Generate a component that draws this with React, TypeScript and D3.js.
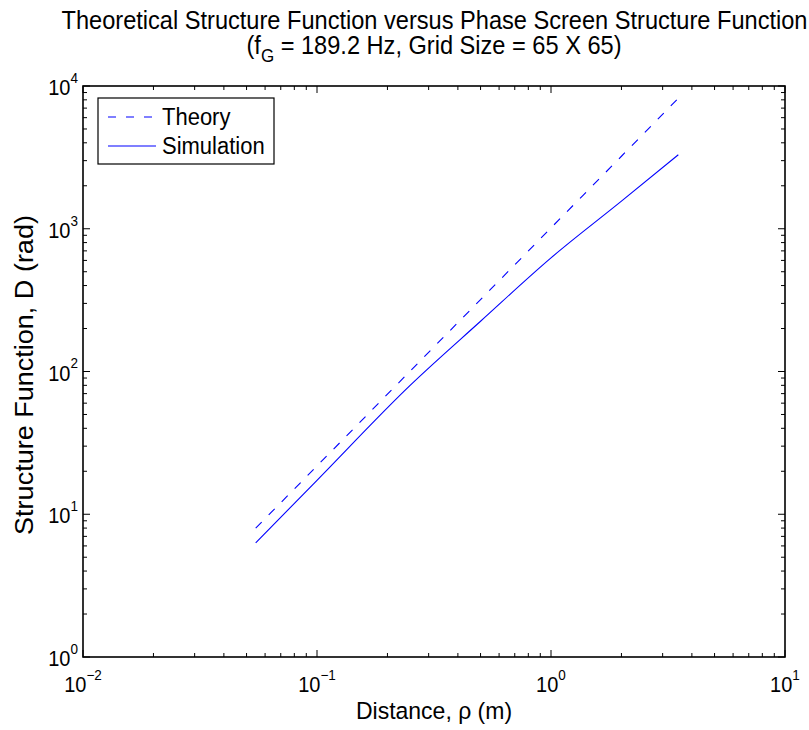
import React from 'react';
import * as d3 from 'd3';

const theoryRho = [0.0547, 0.1, 0.25, 0.5, 1, 2, 3.5];
const theoryD = [8.0, 21.8, 100.6, 319, 1014, 3220, 8200];
const simRho = [0.0547, 0.1, 0.25, 0.5, 1, 2, 3.5];
const simD = [6.3, 17.3, 80, 225, 625, 1560, 3300];
const xTickExps = [-2, -1, 0, 1];
const yTickExps = [0, 1, 2, 3, 4];
const legendLabels = ['Theory', 'Simulation'];

const W = 809, H = 730;
const L = 83, R = 785, T = 86, B = 657;
const FONT = "'Liberation Sans', Arial, Helvetica, sans-serif";
const BLUE = '#0000ff';

const fmtExp = (e: number) => (e < 0 ? '\u2212' + Math.abs(e) : String(e));

export default function App() {
  const x = d3.scaleLog().domain([1e-2, 1e1]).range([L, R]);
  const y = d3.scaleLog().domain([1e0, 1e4]).range([B, T]);
  const line = d3.line<[number, number]>().x(d => x(d[0])).y(d => y(d[1])).curve(d3.curveMonotoneX);
  const theoryPts = theoryRho.map((r, i) => [r, theoryD[i]] as [number, number]);
  const simPts = simRho.map((r, i) => [r, simD[i]] as [number, number]);

  const xMinor: number[] = [];
  for (let e = -2; e < 1; e++) for (let k = 2; k <= 9; k++) xMinor.push(k * Math.pow(10, e));
  const yMinor: number[] = [];
  for (let e = 0; e < 4; e++) for (let k = 2; k <= 9; k++) yMinor.push(k * Math.pow(10, e));

  const MAJ = 7, MIN = 4;
  const tickLines: JSX.Element[] = [];
  xTickExps.forEach(e => {
    const px = x(Math.pow(10, e));
    tickLines.push(<line key={'xb' + e} x1={px} x2={px} y1={B} y2={B - MAJ} />);
    tickLines.push(<line key={'xt' + e} x1={px} x2={px} y1={T} y2={T + MAJ} />);
  });
  xMinor.forEach((v, i) => {
    const px = x(v);
    tickLines.push(<line key={'xbm' + i} x1={px} x2={px} y1={B} y2={B - MIN} />);
    tickLines.push(<line key={'xtm' + i} x1={px} x2={px} y1={T} y2={T + MIN} />);
  });
  yTickExps.forEach(e => {
    const py = y(Math.pow(10, e));
    tickLines.push(<line key={'yl' + e} x1={L} x2={L + MAJ} y1={py} y2={py} />);
    tickLines.push(<line key={'yr' + e} x1={R} x2={R - MAJ} y1={py} y2={py} />);
  });
  yMinor.forEach((v, i) => {
    const py = y(v);
    tickLines.push(<line key={'ylm' + i} x1={L} x2={L + MIN} y1={py} y2={py} />);
    tickLines.push(<line key={'yrm' + i} x1={R} x2={R - MIN} y1={py} y2={py} />);
  });

  const st = (px: number, py: number, s: number, rot = 0) =>
    `translate(${px},${py}) scale(1,${s})` + (rot ? ` rotate(${rot})` : '');

  return (
    <svg width={W} height={H} style={{ position: 'absolute', left: 0, top: 0, background: '#fff' }}
      fontFamily={FONT}>
      <rect x={0} y={0} width={W} height={H} fill="#fff" />
      {/* title */}
      <text transform={st((L + R) / 2 + 0.5, 28.5, 1.08)} textAnchor="middle" fontSize={23.6} fill="#000">
        Theoretical Structure Function versus Phase Screen Structure Function
      </text>
      <text transform={st((L + R) / 2, 54, 1.08)} textAnchor="middle" fontSize={23.6} fill="#000">
        (f<tspan fontSize={17} dy={7}>G</tspan><tspan dy={-7}> = 189.2 Hz, Grid Size = 65 X 65)</tspan>
      </text>

      {/* data */}
      <path d={line(theoryPts) || ''} fill="none" stroke={BLUE} strokeWidth={1.1} strokeDasharray="8.5,10" />
      <path d={line(simPts) || ''} fill="none" stroke={BLUE} strokeWidth={1.1} />

      {/* axes box & ticks */}
      <g stroke="#000" strokeWidth={1}>{tickLines}</g>
      <rect x={L} y={T} width={R - L} height={B - T} fill="none" stroke="#000" strokeWidth={1.6} />

      {/* tick labels */}
      {xTickExps.map(e => (
        <text key={'xl' + e} transform={st(x(Math.pow(10, e)), 692, 1.06)} textAnchor="middle" fontSize={20} fill="#000">
          10<tspan fontSize={13.5} dy={-11.5}>{fmtExp(e)}</tspan>
        </text>
      ))}
      {yTickExps.map(e => (
        <text key={'yl' + e} transform={st(L - 5, y(Math.pow(10, e)) + 9, 1.06)} textAnchor="end" fontSize={20} fill="#000">
          10<tspan fontSize={13.5} dy={-11.5}>{fmtExp(e)}</tspan>
        </text>
      ))}

      {/* axis labels */}
      <text transform={st((L + R) / 2, 719, 1.06)} textAnchor="middle" fontSize={23} fill="#000">
        Distance, ρ (m)
      </text>
      <text transform={st(33, 375, 1.06, -90)} textAnchor="middle" fontSize={25.5} fill="#000">
        Structure Function, D (rad)
      </text>

      {/* legend */}
      <rect x={98} y={98} width={176} height={66} fill="#fff" stroke="#000" strokeWidth={1.2} />
      <line x1={108} x2={156} y1={117} y2={117} stroke={BLUE} strokeWidth={1.1} strokeDasharray="8,10" />
      <line x1={108} x2={156} y1={146} y2={146} stroke={BLUE} strokeWidth={1.1} />
      <text transform={st(162, 124.5, 1.1)} fontSize={22} fill="#000">{legendLabels[0]}</text>
      <text transform={st(162, 153.5, 1.1)} fontSize={22} fill="#000">{legendLabels[1]}</text>
    </svg>
  );
}
